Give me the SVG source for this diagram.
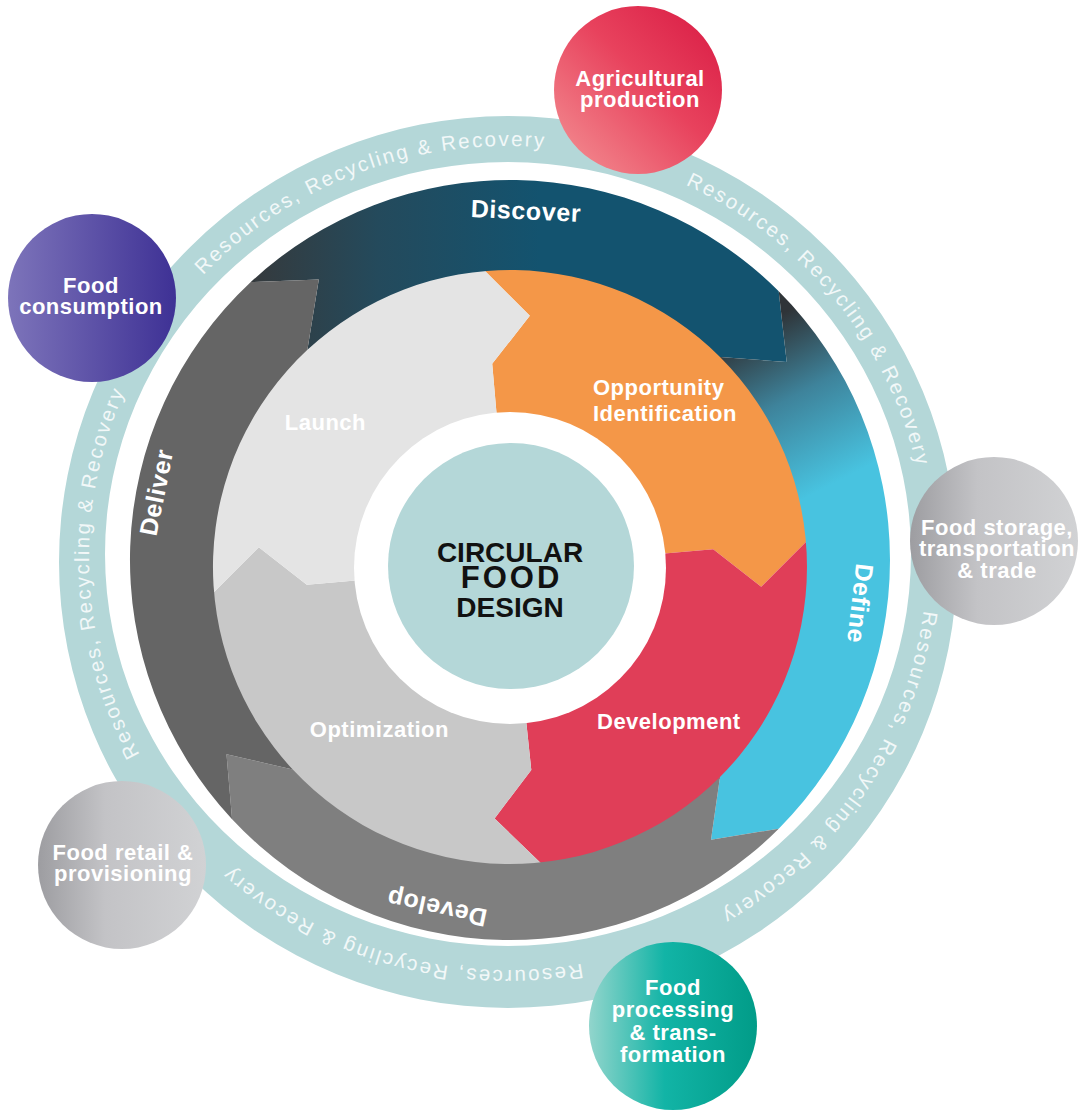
<svg xmlns="http://www.w3.org/2000/svg" width="1083" height="1113" viewBox="0 0 1083 1113">
<defs>
<style>
text { font-family: "Liberation Sans", Arial, Helvetica, sans-serif; }
.ring-txt { font-size: 20.5px; letter-spacing: 2.2px; fill: #f2f8f8; }
.band-txt { font-size: 25px; font-weight: bold; letter-spacing: 0.6px; fill: #ffffff; text-anchor: middle; }
.stage-txt { font-size: 22px; font-weight: bold; letter-spacing: 0.5px; fill: #ffffff; }
.node-txt { font-size: 22px; font-weight: bold; letter-spacing: 0.5px; fill: #ffffff; text-anchor: middle; }
.core-txt { font-weight: bold; fill: #111111; text-anchor: middle; }
</style>
<linearGradient id="gDiscover" gradientUnits="userSpaceOnUse" x1="245" y1="0" x2="540" y2="0">
<stop offset="0" stop-color="#36393b"/>
<stop offset="0.45" stop-color="#244a5c"/>
<stop offset="1" stop-color="#13536f"/>
</linearGradient>
<linearGradient id="gDefine" gradientUnits="userSpaceOnUse" x1="770" y1="320" x2="850" y2="475">
<stop offset="0" stop-color="#2f3438"/>
<stop offset="0.45" stop-color="#3e839b"/>
<stop offset="1" stop-color="#48c3e0"/>
</linearGradient>
<linearGradient id="gAgri" x1="0" y1="1" x2="1" y2="0">
<stop offset="0" stop-color="#f49496"/>
<stop offset="0.55" stop-color="#e8425d"/>
<stop offset="1" stop-color="#d81943"/>
</linearGradient>
<linearGradient id="gCons" x1="0" y1="0" x2="1" y2="0">
<stop offset="0" stop-color="#7d74ba"/>
<stop offset="1" stop-color="#3e3195"/>
</linearGradient>
<linearGradient id="gGrey" x1="0" y1="0" x2="1" y2="0">
<stop offset="0" stop-color="#9d9da1"/>
<stop offset="0.4" stop-color="#c3c3c6"/>
<stop offset="1" stop-color="#d1d2d4"/>
</linearGradient>
<linearGradient id="gProc" x1="0" y1="0" x2="1" y2="0">
<stop offset="0" stop-color="#92d5cc"/>
<stop offset="0.45" stop-color="#12b4a6"/>
<stop offset="1" stop-color="#019c88"/>
</linearGradient>
<path id="ringPath" d="M 651.3 945.2 A 419 412 0 1 1 364.7 170.8 A 419 412 0 1 1 651.3 945.2"/>
</defs>

<rect x="0" y="0" width="1083" height="1113" fill="#ffffff"/>

<g id="outer-ring">
<path fill="#b4d7d8" fill-rule="evenodd" d="M 59 562 A 449 446 0 1 1 957 562 A 449 446 0 1 1 59 562 Z M 105 554 A 403 392 0 1 0 911 554 A 403 392 0 1 0 105 554 Z"/>
<text class="ring-txt" text-anchor="middle"><textPath href="#ringPath" startOffset="89.86%">Resources, Recycling &amp; Recovery</textPath></text>
<text class="ring-txt" text-anchor="middle"><textPath href="#ringPath" startOffset="10%">Resources, Recycling &amp; Recovery</textPath></text>
<text class="ring-txt" text-anchor="middle"><textPath href="#ringPath" startOffset="29.97%">Resources, Recycling &amp; Recovery</textPath></text>
<text class="ring-txt" text-anchor="middle"><textPath href="#ringPath" startOffset="49.81%">Resources, Recycling &amp; Recovery</textPath></text>
<text class="ring-txt" text-anchor="middle"><textPath href="#ringPath" startOffset="69.86%">Resources, Recycling &amp; Recovery</textPath></text>
</g>

<g id="stages">
<g id="stage-opportunity">
<path fill="#f49748" d="M 510 567 L 492.2 363.8 L 529.8 315.8 L 484.0 270.1 A 298 298 0 0 1 806.9 541.0 L 761.2 586.8 L 713.2 549.2 Z"/>
<text class="stage-txt" x="593" y="395">Opportunity</text>
<text class="stage-txt" x="593" y="420.5">Identification</text>
</g>
<g id="stage-development">
<path fill="#e03e58" d="M 510 567 L 713.2 549.2 L 761.2 586.8 L 806.9 541.0 A 298 298 0 0 1 541.2 863.4 L 494.6 818.5 L 531.3 769.9 Z"/>
<text class="stage-txt" x="597" y="729">Development</text>
</g>
<g id="stage-optimization">
<path fill="#c8c8c8" d="M 510 567 L 531.3 769.9 L 494.6 818.5 L 541.2 863.4 A 298 298 0 0 1 213.1 593.0 L 258.8 547.2 L 306.8 584.8 Z"/>
<text class="stage-txt" x="449" y="736.5" text-anchor="end">Optimization</text>
</g>
<g id="stage-launch">
<path fill="#e4e4e4" d="M 510 567 L 306.8 584.8 L 258.8 547.2 L 213.1 593.0 A 298 298 0 0 1 484.0 270.1 L 529.8 315.8 L 492.2 363.8 Z"/>
<text class="stage-txt" x="366" y="429.5" text-anchor="end">Launch</text>
</g>
</g>

<g id="phases">
<g id="phase-discover">
<path fill="url(#gDiscover)" d="M 250.8 282.1 A 380 380 0 0 1 778.7 291.3 L 786.7 362.0 L 720.0 357.0 A 297 297 0 0 0 307.4 349.8 L 318.8 279.5 Z"/>
<text class="band-txt" x="525.6" y="219.4" transform="rotate(2.6 525.6 219.4)">Discover</text>
</g>
<g id="phase-define">
<path fill="url(#gDefine)" d="M 778.7 291.3 A 380 380 0 0 1 778.7 828.7 L 711.0 839.7 L 720.0 777.0 A 297 297 0 0 0 720.0 357.0 L 786.7 362.0 Z"/>
<text class="band-txt" x="851.7" y="602.5" transform="rotate(96.6 851.7 602.5)">Define</text>
</g>
<g id="phase-develop">
<path fill="#7f7f7f" d="M 778.7 828.7 A 380 380 0 0 1 232.1 819.2 L 226.5 754.2 L 292.8 769.6 A 297 297 0 0 0 720.0 777.0 L 711.0 839.7 Z"/>
<text class="band-txt" x="438.5" y="899.5" transform="rotate(192 438.5 899.5)">Develop</text>
</g>
<g id="phase-deliver">
<path fill="#656565" d="M 232.1 819.2 A 380 380 0 0 1 250.8 282.1 L 318.8 279.5 L 307.4 349.8 A 297 297 0 0 0 292.8 769.6 L 226.5 754.2 Z"/>
<text class="band-txt" x="164.8" y="494" transform="rotate(-78.7 164.8 494)">Deliver</text>
</g>
</g>

<g id="core">
<circle cx="510" cy="568" r="156" fill="#ffffff"/>
<circle cx="511" cy="566" r="123" fill="#b4d7d8"/>
<text class="core-txt" x="510" y="561.7" font-size="28">CIRCULAR</text>
<text class="core-txt" x="511.5" y="588.3" font-size="31" letter-spacing="3">FOOD</text>
<text class="core-txt" x="510" y="616.7" font-size="28">DESIGN</text>
</g>

<g id="node-agricultural">
<circle cx="638" cy="90" r="84" fill="url(#gAgri)"/>
<text class="node-txt" x="640" y="86">Agricultural</text>
<text class="node-txt" x="640" y="107">production</text>
</g>
<g id="node-consumption">
<circle cx="92" cy="298" r="84" fill="url(#gCons)"/>
<text class="node-txt" x="91" y="293">Food</text>
<text class="node-txt" x="91" y="314">consumption</text>
</g>
<g id="node-storage">
<circle cx="994" cy="541" r="84" fill="url(#gGrey)"/>
<text class="node-txt" x="997" y="534.5">Food storage,</text>
<text class="node-txt" x="997" y="556">transportation</text>
<text class="node-txt" x="997" y="577.5">&amp; trade</text>
</g>
<g id="node-retail">
<circle cx="122" cy="865" r="84" fill="url(#gGrey)"/>
<text class="node-txt" x="123" y="860">Food retail &amp;</text>
<text class="node-txt" x="123" y="880.5">provisioning</text>
</g>
<g id="node-processing">
<circle cx="673" cy="1026" r="84" fill="url(#gProc)"/>
<text class="node-txt" x="673" y="995">Food</text>
<text class="node-txt" x="673" y="1017">processing</text>
<text class="node-txt" x="673" y="1039.5">&amp; trans-</text>
<text class="node-txt" x="673" y="1061.5">formation</text>
</g>
</svg>
